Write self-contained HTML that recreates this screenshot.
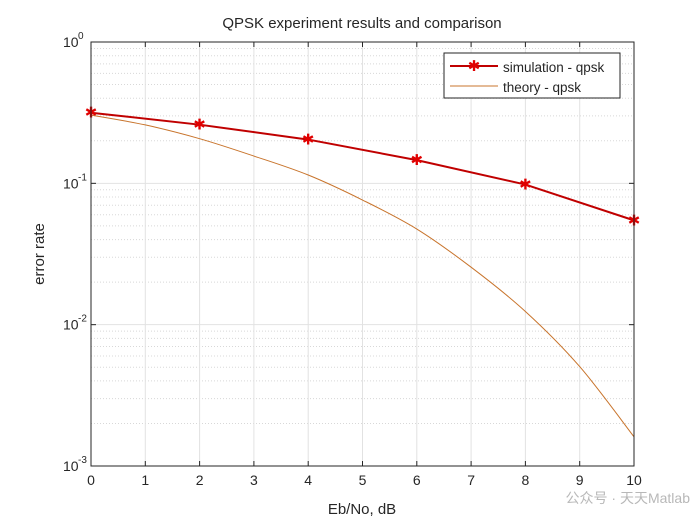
<!DOCTYPE html>
<html><head><meta charset="utf-8"><style>
body{margin:0;background:#fff;}
svg text{font-family:"Liberation Sans","Noto Sans CJK SC",sans-serif;fill:#262626;}
</style></head><body>
<svg id="chart" width="700" height="525" xmlns="http://www.w3.org/2000/svg">
<rect width="700" height="525" fill="#fff"/>
<g id="grid"></g>
<g id="series"></g>
<g id="axes"></g>
<text x="362" y="28" font-size="15" text-anchor="middle">QPSK experiment results and comparison</text>
<text x="362" y="514" font-size="15" text-anchor="middle">Eb/No, dB</text>
<text transform="translate(44,254) rotate(-90)" font-size="15" text-anchor="middle">error rate</text>
<g>
<rect x="444" y="53" width="176" height="45" fill="#fff" stroke="#262626" stroke-width="1"/>
<g>
<line x1="450" y1="66" x2="498" y2="66" stroke="#c00000" stroke-width="2"/>
<text x="474" y="71" font-size="15" text-anchor="middle" fill="#e00000" style="fill:#e00000">✱</text>
<text x="503" y="72" font-size="13.5">simulation - qpsk</text>
</g>
<g>
<line x1="450" y1="86" x2="498" y2="86" stroke="#c8742c" stroke-width="1"/>
<text x="503" y="92" font-size="13.5">theory - qpsk</text>
</g>
</g>
<text x="690" y="503" font-size="14" text-anchor="end" style="fill:#b8b8b8">公众号 · 天天Matlab</text>
</svg>
<script>
const xTicks=[0,1,2,3,4,5,6,7,8,9,10];
const yDecades=[-3,-2,-1,0];
const simX=[0,2,4,6,8,10];
const simY=[0.316,0.26,0.204,0.146,0.098,0.0547];
const theoryX=[0,1,2,3,4,5,6,7,8,9,10];
const theoryY=[0.304,0.259,0.207,0.156,0.1145,0.0762,0.0475,0.0255,0.0124,0.00505,0.00161];

const L=91,R=634,T=42,B=466;
const NS='http://www.w3.org/2000/svg';
const sx=v=>L+(v-0)/(10-0)*(R-L);
const sy=v=>T+(0-Math.log10(v))/3*(B-T);
function mk(tag,attrs,parent){const e=document.createElementNS(NS,tag);for(const k in attrs)e.setAttribute(k,attrs[k]);parent.appendChild(e);return e;}
const grid=document.getElementById('grid'),axes=document.getElementById('axes'),series=document.getElementById('series');
// minor grid
for(const d of yDecades.slice(0,3)){for(let m=2;m<=9;m++){const y=sy(m*Math.pow(10,d));
const l=mk('line',{x1:L,x2:R,y1:y,y2:y,stroke:'#d8d8d8','stroke-width':1,'stroke-dasharray':'1,2'},grid);

}}
for(const t of xTicks){const x=sx(t);
const l=mk('line',{x1:x,x2:x,y1:T,y2:B,stroke:'#e2e2e2','stroke-width':1},grid);


mk('line',{x1:x,x2:x,y1:B,y2:B-5,stroke:'#262626'},axes);
mk('line',{x1:x,x2:x,y1:T,y2:T+5,stroke:'#262626'},axes);
const tx=mk('text',{x:x,y:B+19,'font-size':14,'text-anchor':'middle'},axes);tx.textContent=t;

}
for(const d of yDecades){const y=sy(Math.pow(10,d));
const l=mk('line',{x1:L,x2:R,y1:y,y2:y,stroke:'#e2e2e2','stroke-width':1},grid);


mk('line',{x1:L,x2:L+5,y1:y,y2:y,stroke:'#262626'},axes);
mk('line',{x1:R,x2:R-5,y1:y,y2:y,stroke:'#262626'},axes);
const tx=mk('text',{x:L-28,y:y+5,'font-size':14},axes);tx.textContent='10';


const ex=mk('text',{x:L-13,y:y-3,'font-size':10},axes);ex.textContent=String(d);}
const box=mk('rect',{x:L,y:T,width:R-L,height:B-T,fill:'none',stroke:'#262626','stroke-width':1},axes);


// theory curve: catmull-rom in screen space
const P=theoryX.map((x,i)=>[sx(x),sy(theoryY[i])]);
let d='M'+P[0][0]+','+P[0][1];
for(let i=0;i<P.length-1;i++){const p0=P[Math.max(0,i-1)],p1=P[i],p2=P[i+1],p3=P[Math.min(P.length-1,i+2)];
d+=` C${p1[0]+(p2[0]-p0[0])/6},${p1[1]+(p2[1]-p0[1])/6} ${p2[0]-(p3[0]-p1[0])/6},${p2[1]-(p3[1]-p1[1])/6} ${p2[0]},${p2[1]}`;}
const th=mk('path',{d:d,fill:'none',stroke:'#c8742c','stroke-width':1},series);


const sim=mk('polyline',{points:simX.map((x,i)=>sx(x)+','+sy(simY[i])).join(' '),fill:'none',stroke:'#c00000','stroke-width':2},series);


simX.forEach((x,i)=>{const t=mk('text',{x:sx(x),y:sy(simY[i])+5,'font-size':15,'text-anchor':'middle',style:'fill:#e00000'},series);t.textContent='✱';

});
</script>
</body></html>
